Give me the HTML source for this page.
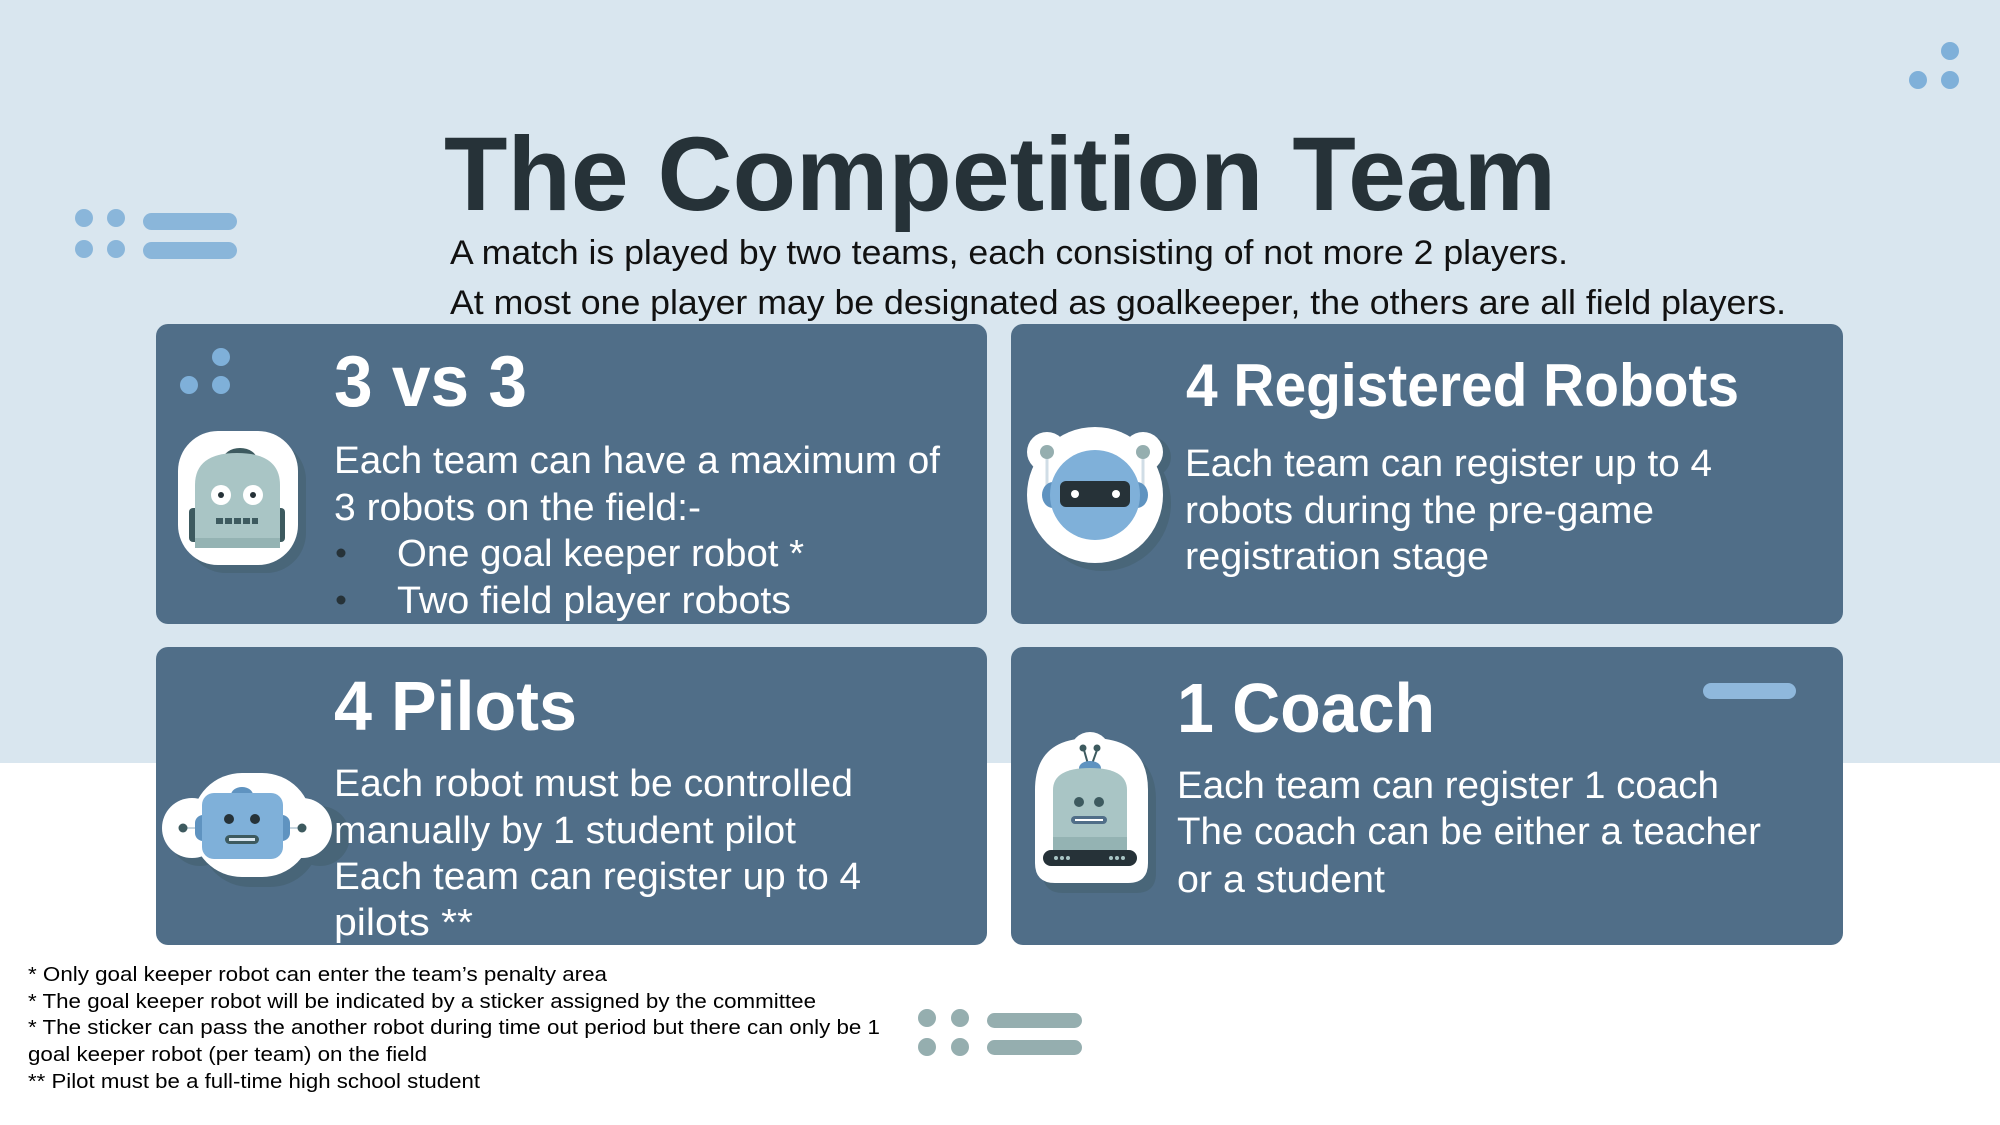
<!DOCTYPE html>
<html><head><meta charset="utf-8"><style>
html,body{margin:0;padding:0;width:2000px;height:1125px;overflow:hidden;background:#fff}
svg{display:block}
text{font-family:"Liberation Sans",Arial,sans-serif}
</style></head><body>
<svg width="2000" height="1125" viewBox="0 0 2000 1125">
<rect x="0" y="0" width="2000" height="763" fill="#d9e6ef"/>
<g fill="#7fb0d9">
<circle cx="1950" cy="51" r="9"/><circle cx="1918" cy="80" r="9"/><circle cx="1950" cy="80" r="9"/></g>
<g fill="#8ab6da">
<circle cx="84" cy="218" r="9"/><circle cx="116" cy="218" r="9"/><circle cx="84" cy="249" r="9"/><circle cx="116" cy="249" r="9"/>
<rect x="143" y="213" width="94" height="17" rx="8.5"/><rect x="143" y="242" width="94" height="17" rx="8.5"/></g>

<text x="444" y="210" font-size="105" font-weight="bold" fill="#263238" textLength="1112" lengthAdjust="spacingAndGlyphs">The Competition Team</text>
<text x="450" y="264" font-size="34" fill="#111" textLength="1118" lengthAdjust="spacingAndGlyphs">A match is played by two teams, each consisting of not more 2 players.</text>
<text x="450" y="314" font-size="34" fill="#111" textLength="1336" lengthAdjust="spacingAndGlyphs">At most one player may be designated as goalkeeper, the others are all field players.</text>

<g>
<rect x="156" y="324" width="831" height="300" rx="12" fill="#506e88"/>
<g fill="#7fb0d9"><circle cx="221" cy="357" r="9"/><circle cx="189" cy="385" r="9"/><circle cx="221" cy="385" r="9"/></g>
<g>
<rect x="186" y="440" width="120" height="133" rx="40" fill="#44606f" opacity="0.6"/>
<rect x="178" y="431" width="120" height="134" rx="40" fill="#fff"/>
<ellipse cx="240" cy="460" rx="17" ry="12" fill="#3d5a5f"/>
<rect x="189" y="508" width="96" height="34" rx="4" fill="#3d5a5f"/>
<path d="M195 548 V485 Q195 453 237 453 Q280 453 280 485 V548 Z" fill="#a9c5c5"/>
<rect x="195" y="538" width="85" height="10" fill="#94b3b3"/>
<circle cx="221" cy="495" r="10" fill="#fff"/><circle cx="253" cy="495" r="10" fill="#fff"/>
<circle cx="221" cy="495" r="3" fill="#263238"/><circle cx="253" cy="495" r="3" fill="#263238"/>
<g fill="#3d5a5f"><rect x="216" y="518" width="7" height="6"/><rect x="225" y="518" width="7" height="6"/><rect x="234" y="518" width="7" height="6"/><rect x="243" y="518" width="7" height="6"/><rect x="252" y="518" width="6" height="6"/></g>
</g>
<text x="334" y="406" font-size="72" font-weight="bold" fill="#fff" textLength="193" lengthAdjust="spacingAndGlyphs">3 vs 3</text>
<g font-size="38" fill="#fff">
<text x="334" y="473" textLength="606" lengthAdjust="spacingAndGlyphs">Each team can have a maximum of</text>
<text x="334" y="520" textLength="367" lengthAdjust="spacingAndGlyphs">3 robots on the field:-</text>
<text x="397" y="566" textLength="407" lengthAdjust="spacingAndGlyphs">One goal keeper robot *</text>
<text x="397" y="613" textLength="394" lengthAdjust="spacingAndGlyphs">Two field player robots</text>
</g>
<circle cx="341" cy="553" r="4.5" fill="#263238"/><circle cx="341" cy="600" r="4.5" fill="#263238"/>
</g>

<g>
<rect x="1011" y="324" width="832" height="300" rx="12" fill="#506e88"/>
<g>
<g fill="#44606f" opacity="0.6"><circle cx="1103" cy="503" r="68"/><circle cx="1055" cy="457" r="20"/><circle cx="1151" cy="457" r="20"/></g>
<g fill="#fff"><circle cx="1095" cy="495" r="68"/><circle cx="1047" cy="452" r="20"/><circle cx="1143" cy="452" r="20"/></g>
<line x1="1047" y1="452" x2="1047" y2="490" stroke="#d0dde6" stroke-width="3"/>
<line x1="1143" y1="452" x2="1143" y2="490" stroke="#d0dde6" stroke-width="3"/>
<circle cx="1047" cy="452" r="7" fill="#95aeaf"/><circle cx="1143" cy="452" r="7" fill="#95aeaf"/>
<ellipse cx="1053" cy="495" rx="11" ry="13" fill="#5f93c0"/><ellipse cx="1137" cy="495" rx="11" ry="13" fill="#5f93c0"/>
<circle cx="1095" cy="495" r="45" fill="#7fb0d9"/>
<rect x="1060" y="481" width="70" height="26" rx="6" fill="#263238"/>
<circle cx="1075" cy="494" r="4" fill="#fff"/><circle cx="1116" cy="494" r="4" fill="#fff"/>
</g>
<text x="1186" y="406" font-size="60" font-weight="bold" fill="#fff" textLength="553" lengthAdjust="spacingAndGlyphs">4 Registered Robots</text>
<g font-size="38" fill="#fff">
<text x="1185" y="476" textLength="527" lengthAdjust="spacingAndGlyphs">Each team can register up to 4</text>
<text x="1185" y="523" textLength="469" lengthAdjust="spacingAndGlyphs">robots during the pre-game</text>
<text x="1185" y="569" textLength="304" lengthAdjust="spacingAndGlyphs">registration stage</text>
</g>
</g>

<g>
<rect x="156" y="647" width="831" height="298" rx="12" fill="#506e88"/>
<g>
<g fill="#44606f" opacity="0.6"><rect x="200" y="783" width="120" height="104" rx="50"/><circle cx="200" cy="836" r="30"/><circle cx="320" cy="836" r="30"/></g>
<g fill="#fff"><rect x="192" y="773" width="120" height="104" rx="50"/><circle cx="192" cy="828" r="30"/><circle cx="302" cy="828" r="30"/></g>
<line x1="183" y1="828" x2="302" y2="828" stroke="#c7d6e0" stroke-width="2"/>
<circle cx="183" cy="828" r="4.5" fill="#3d5a5f"/><circle cx="302" cy="828" r="4.5" fill="#3d5a5f"/>
<ellipse cx="242" cy="795" rx="11" ry="8" fill="#5f93c0"/>
<rect x="195" y="815" width="95" height="26" rx="8" fill="#5f93c0"/>
<rect x="202" y="793" width="81" height="66" rx="12" fill="#7fb0d9"/>
<circle cx="229" cy="819" r="5" fill="#263238"/><circle cx="255" cy="819" r="5" fill="#263238"/>
<rect x="225" y="835" width="34" height="9" rx="4.5" fill="#3d5a5f"/><rect x="229" y="838" width="26" height="3" fill="#d9e6ef"/>
</g>
<text x="334" y="730" font-size="70" font-weight="bold" fill="#fff" textLength="243" lengthAdjust="spacingAndGlyphs">4 Pilots</text>
<g font-size="38" fill="#fff">
<text x="334" y="796" textLength="519" lengthAdjust="spacingAndGlyphs">Each robot must be controlled</text>
<text x="334" y="843" textLength="462" lengthAdjust="spacingAndGlyphs">manually by 1 student pilot</text>
<text x="334" y="889" textLength="527" lengthAdjust="spacingAndGlyphs">Each team can register up to 4</text>
<text x="334" y="935" textLength="139" lengthAdjust="spacingAndGlyphs">pilots **</text>
</g>
</g>

<g>
<rect x="1011" y="647" width="832" height="298" rx="12" fill="#506e88"/>
<rect x="1703" y="683" width="93" height="16" rx="8" fill="#8fb8dc"/>
<g>
<path d="M1043 873 V800 Q1043 748 1099 748 Q1156 748 1156 800 V873 Q1156 893 1136 893 H1063 Q1043 893 1043 873 Z" fill="#44606f" opacity="0.6"/>
<path d="M1035 863 V790 Q1035 738 1091 738 Q1148 738 1148 790 V863 Q1148 883 1128 883 H1055 Q1035 883 1035 863 Z" fill="#fff"/>
<circle cx="1090" cy="752" r="20" fill="#fff"/>
<line x1="1084" y1="750" x2="1088" y2="764" stroke="#3d5a5f" stroke-width="2"/><line x1="1097" y1="750" x2="1092" y2="764" stroke="#3d5a5f" stroke-width="2"/>
<circle cx="1083" cy="748" r="3.5" fill="#3d5a5f"/><circle cx="1097" cy="748" r="3.5" fill="#3d5a5f"/>
<ellipse cx="1090" cy="768" rx="11" ry="7" fill="#5f93c0"/>
<path d="M1053 850 V790 Q1053 768 1090 768 Q1127 768 1127 790 V850 Z" fill="#a9c5c5"/>
<rect x="1053" y="837" width="74" height="13" fill="#94b3b3"/>
<rect x="1043" y="850" width="94" height="16" rx="8" fill="#263238"/>
<g fill="#a9c5c5"><circle cx="1056" cy="858" r="2"/><circle cx="1062" cy="858" r="2"/><circle cx="1068" cy="858" r="2"/><circle cx="1111" cy="858" r="2"/><circle cx="1117" cy="858" r="2"/><circle cx="1123" cy="858" r="2"/></g>
<circle cx="1079" cy="802" r="5" fill="#3d5a5f"/><circle cx="1099" cy="802" r="5" fill="#3d5a5f"/>
<rect x="1071" y="816" width="36" height="8" rx="4" fill="#506e88"/><rect x="1075" y="819" width="28" height="2" fill="#fff"/>
</g>
<text x="1177" y="732" font-size="70" font-weight="bold" fill="#fff" textLength="258" lengthAdjust="spacingAndGlyphs">1 Coach</text>
<g font-size="38" fill="#fff">
<text x="1177" y="798" textLength="542" lengthAdjust="spacingAndGlyphs">Each team can register 1 coach</text>
<text x="1177" y="844" textLength="584" lengthAdjust="spacingAndGlyphs">The coach can be either a teacher</text>
<text x="1177" y="892" textLength="208" lengthAdjust="spacingAndGlyphs">or a student</text>
</g>
</g>

<g fill="#95aeaf">
<circle cx="927" cy="1018" r="9"/><circle cx="960" cy="1018" r="9"/><circle cx="927" cy="1047" r="9"/><circle cx="960" cy="1047" r="9"/>
<rect x="987" y="1013" width="95" height="15" rx="7.5"/><rect x="987" y="1040" width="95" height="15" rx="7.5"/></g>

<g font-size="20" fill="#000">
<text x="28" y="981" textLength="579" lengthAdjust="spacingAndGlyphs">* Only goal keeper robot can enter the team’s penalty area</text>
<text x="28" y="1008" textLength="788" lengthAdjust="spacingAndGlyphs">* The goal keeper robot will be indicated by a sticker assigned by the committee</text>
<text x="28" y="1034" textLength="852" lengthAdjust="spacingAndGlyphs">* The sticker can pass the another robot during time out period but there can only be 1</text>
<text x="28" y="1061" textLength="399" lengthAdjust="spacingAndGlyphs">goal keeper robot (per team) on the field</text>
<text x="28" y="1088" textLength="452" lengthAdjust="spacingAndGlyphs">** Pilot must be a full-time high school student</text>
</g>
</svg>
</body></html>
